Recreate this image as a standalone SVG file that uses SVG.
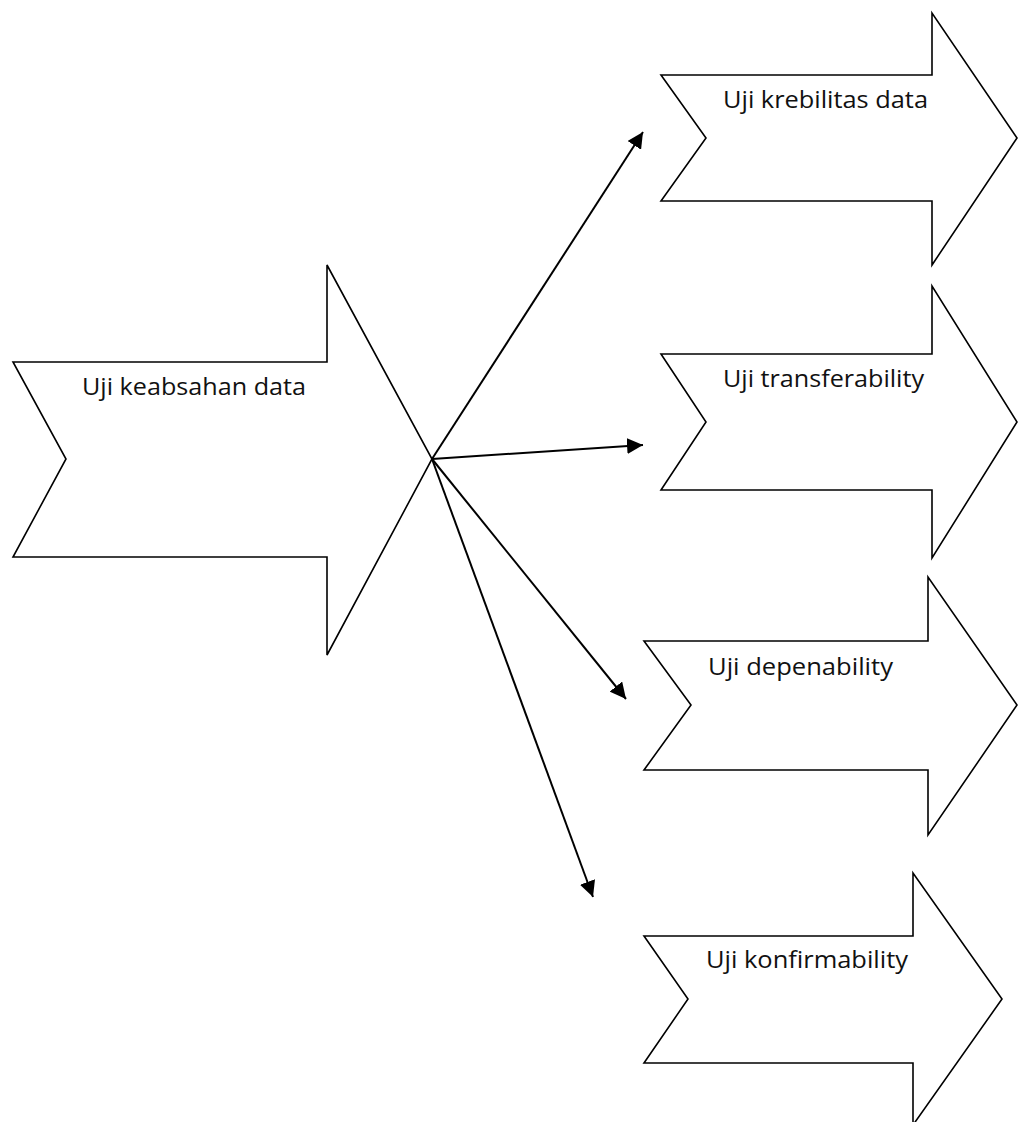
<svg xmlns="http://www.w3.org/2000/svg" width="1018" height="1122" viewBox="0 0 1018 1122">
<style>
.shape{fill:#fff;stroke:#000;stroke-width:1.6;stroke-linejoin:miter}
.lbl{font-family:"Open Sans","Liberation Sans",sans-serif;font-size:24px;fill:#111}
.conn{stroke:#000;stroke-width:2;fill:none}
</style>
<defs>
<marker id="ah" viewBox="0 0 10 10" refX="10" refY="5" markerWidth="8" markerHeight="8" markerUnits="strokeWidth" orient="auto">
<path d="M0,0 L10,5 L0,10 Z" fill="#000"/>
</marker>
</defs>
<rect width="1018" height="1122" fill="#fff"/>
<g id="node-main">
<polygon class="shape" points="13,362 327,362 327,265 432,459 327,655 327,557 13,557 66,459"/>
<text class="lbl" x="82" y="395" textLength="224" lengthAdjust="spacingAndGlyphs">Uji keabsahan data</text>
</g>
<g id="node-krebilitas">
<polygon class="shape" points="661,75 932,75 932,13 1017,138 932,265 932,201 661,201 706,138"/>
<text class="lbl" x="723" y="108" textLength="205" lengthAdjust="spacingAndGlyphs">Uji krebilitas data</text>
</g>
<g id="node-transferability">
<polygon class="shape" points="661,354 932,354 932,286 1017,422 932,558 932,490 661,490 706,422"/>
<text class="lbl" x="723" y="387" textLength="201" lengthAdjust="spacingAndGlyphs">Uji transferability</text>
</g>
<g id="node-depenability">
<polygon class="shape" points="644,641 928,641 928,577 1017,705 928,835 928,770 644,770 691,705"/>
<text class="lbl" x="708" y="675" textLength="185" lengthAdjust="spacingAndGlyphs">Uji depenability</text>
</g>
<g id="node-konfirmability">
<polygon class="shape" points="644,936 913,936 913,873 1002,999 913,1125 913,1063 644,1063 688,999"/>
<text class="lbl" x="706" y="968" textLength="202" lengthAdjust="spacingAndGlyphs">Uji konfirmability</text>
</g>
<g id="connectors">
<line class="conn" x1="432" y1="459" x2="643" y2="132" marker-end="url(#ah)"/>
<line class="conn" x1="432" y1="459" x2="643" y2="445" marker-end="url(#ah)"/>
<line class="conn" x1="432" y1="459" x2="626" y2="699" marker-end="url(#ah)"/>
<line class="conn" x1="432" y1="459" x2="593" y2="897" marker-end="url(#ah)"/>
</g>
</svg>
